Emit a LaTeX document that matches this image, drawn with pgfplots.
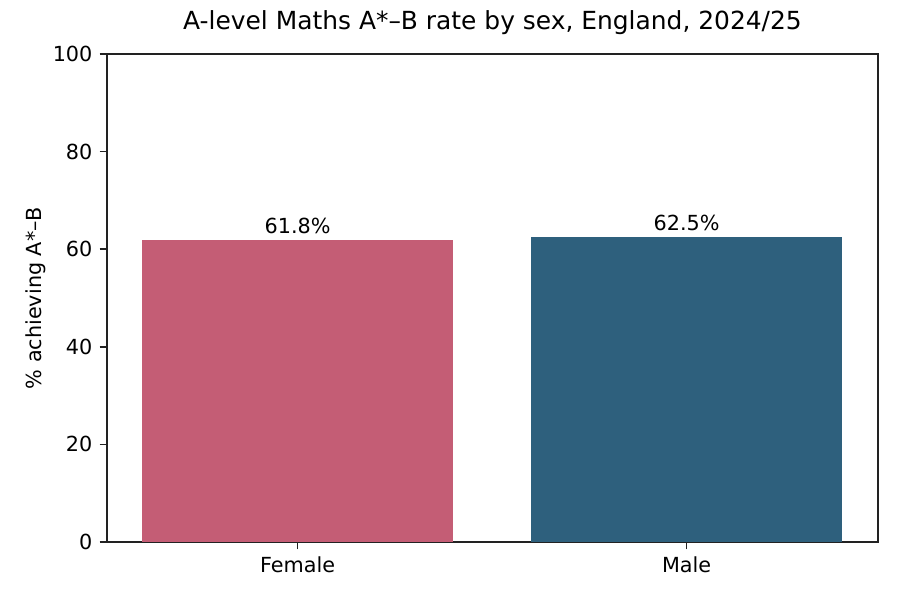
\documentclass[border=0pt]{standalone}
\usepackage{fontspec}
\setmainfont{DejaVu Sans}
\usepackage{pgfplots}
\pgfplotsset{compat=1.18}

\definecolor{femalec}{HTML}{C45D75}
\definecolor{malec}{HTML}{2E607D}
\definecolor{spine}{HTML}{222222}

\begin{document}
\begin{tikzpicture}
\path[use as bounding box] (0,0) rectangle (6in,4in);
\begin{axis}[
    at={(0.7133in,0.3867in)}, anchor=south west,
    scale only axis, width=5.14in, height=3.2533in,
    xmin=-0.49, xmax=1.492, ymin=0, ymax=100,
    xtick={0,1}, xticklabels={Female,Male},
    ytick={0,20,40,60,80,100},
    tick pos=left, tick align=outside,
    major tick length=3.5pt,
    every tick/.style={spine, line width=0.8pt},
    axis line style={spine, line width=0.8pt},
    /pgf/number format/assume math mode=true,
    ticklabel style={font=\fontsize{10}{12}\selectfont},
    title={A-level Maths A*–B rate by sex, England, 2024/25},
    title style={font=\fontsize{12}{14}\selectfont, at={(axis description cs:0.5,1)}, anchor=base, yshift=5.9pt, inner sep=0pt},
    ylabel={\% achieving A*–B},
    ylabel style={font=\fontsize{10}{12}\selectfont, at={(axis description cs:-0.085,0.5)}, anchor=base, inner sep=0pt},
    ybar, bar width=0.8, bar shift=0pt,
    point meta=explicit symbolic,
    nodes near coords,
    every node near coord/.append style={font=\fontsize{10}{12}\selectfont, anchor=base, yshift=3.2pt, inner sep=0pt, black},
]
\addplot[fill=femalec, draw=none] coordinates {(0,61.8) [61.8\%]};
\addplot[fill=malec, draw=none] coordinates {(1,62.5) [62.5\%]};
\end{axis}
\end{tikzpicture}
\end{document}
